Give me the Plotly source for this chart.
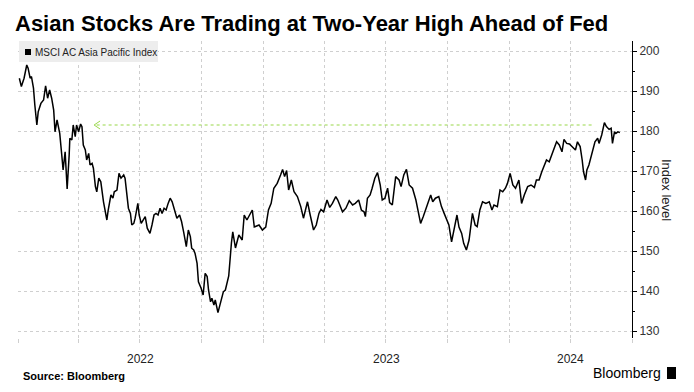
import plotly.graph_objects as go

# ---- data ----
dates = [
    "2022-01-03","2022-01-06","2022-01-10","2022-01-14","2022-01-16","2022-01-19","2022-01-21","2022-01-24",
    "2022-01-26","2022-01-29","2022-01-31","2022-02-04","2022-02-08","2022-02-11","2022-02-14","2022-02-17",
    "2022-02-20","2022-02-23","2022-02-25","2022-02-28","2022-03-02","2022-03-04","2022-03-07","2022-03-09",
    "2022-03-12","2022-03-15","2022-03-18","2022-03-19","2022-03-22","2022-03-24","2022-03-27","2022-03-29",
    "2022-04-01","2022-04-04","2022-04-06","2022-04-08","2022-04-11","2022-04-13","2022-04-16","2022-04-18",
    "2022-04-21","2022-04-23","2022-04-26","2022-04-28","2022-05-01","2022-05-04","2022-05-08","2022-05-10",
    "2022-05-13","2022-05-15","2022-05-19","2022-05-22","2022-05-24","2022-05-28","2022-05-31","2022-06-03",
    "2022-06-07","2022-06-09","2022-06-12","2022-06-14","2022-06-17","2022-06-19","2022-06-22","2022-06-24",
    "2022-06-28","2022-06-30","2022-07-03","2022-07-06","2022-07-09","2022-07-12","2022-07-16","2022-07-19",
    "2022-07-22","2022-07-25","2022-07-28","2022-07-31","2022-08-03","2022-08-06","2022-08-09","2022-08-12",
    "2022-08-15","2022-08-18","2022-08-21","2022-08-25","2022-08-29","2022-09-01","2022-09-04","2022-09-08",
    "2022-09-11","2022-09-14","2022-09-16","2022-09-19","2022-09-21","2022-09-24","2022-09-26","2022-09-30",
    "2022-10-03","2022-10-06","2022-10-09","2022-10-11","2022-10-14","2022-10-16","2022-10-19","2022-10-21",
    "2022-10-25","2022-10-28","2022-10-30","2022-11-02","2022-11-05","2022-11-10","2022-11-14","2022-11-16",
    "2022-11-20","2022-11-25","2022-11-30","2022-12-03","2022-12-07","2022-12-11","2022-12-15","2022-12-18",
    "2022-12-25","2022-12-30","2023-01-04","2023-01-08","2023-01-12","2023-01-16","2023-01-21","2023-01-26",
    "2023-01-29","2023-02-01","2023-02-04","2023-02-07","2023-02-11","2023-02-15","2023-02-20","2023-02-25",
    "2023-03-01","2023-03-04","2023-03-07","2023-03-11","2023-03-14","2023-03-16","2023-03-20","2023-03-24",
    "2023-03-27","2023-03-31","2023-04-05","2023-04-09","2023-04-13","2023-04-18","2023-04-21","2023-04-28",
    "2023-05-03","2023-05-08","2023-05-13","2023-05-17","2023-05-22","2023-05-26","2023-05-30","2023-06-01",
    "2023-06-04","2023-06-08","2023-06-11","2023-06-15","2023-06-19","2023-06-23","2023-06-26","2023-06-30",
    "2023-07-04","2023-07-07","2023-07-11","2023-07-16","2023-07-21","2023-07-24","2023-07-28","2023-08-01",
    "2023-08-05","2023-08-10","2023-08-15","2023-08-20","2023-08-22","2023-08-26","2023-08-30","2023-09-02",
    "2023-09-06","2023-09-09","2023-09-13","2023-09-18","2023-09-22","2023-09-26","2023-09-30","2023-10-03",
    "2023-10-07","2023-10-11","2023-10-15","2023-10-18","2023-10-22","2023-10-25","2023-10-29","2023-11-02",
    "2023-11-07","2023-11-11","2023-11-14","2023-11-18","2023-11-22","2023-11-27","2023-12-02","2023-12-06",
    "2023-12-09","2023-12-14","2023-12-18","2023-12-22","2023-12-26","2023-12-29","2024-01-02","2024-01-06",
    "2024-01-10","2024-01-15","2024-01-17","2024-01-19","2024-01-23","2024-01-28","2024-02-02","2024-02-07",
    "2024-02-10","2024-02-14","2024-02-18","2024-02-22","2024-02-25","2024-02-29","2024-03-04","2024-03-07",
    "2024-03-11","2024-03-15","2024-03-19","2024-03-22","2024-03-26","2024-03-30","2024-04-03","2024-04-08",
    "2024-04-11","2024-04-15","2024-04-18","2024-04-20","2024-04-23","2024-04-25","2024-04-28","2024-05-01",
    "2024-05-04","2024-05-07","2024-05-11","2024-05-13","2024-05-17","2024-05-21","2024-05-24","2024-05-28",
    "2024-05-31","2024-06-02","2024-06-05","2024-06-07","2024-06-10","2024-06-13",
]
index_level = [
    193.2,191.1,193.2,196.5,195.7,193.2,193.6,190.7,
    186.5,181.5,184.8,186.9,187.75,191.3,188.2,190.25,
    188.2,185.25,179.8,182.75,181.1,179.4,174.0,170.25,
    174.8,165.5,174.0,178.2,177.75,181.5,178.6,181.5,
    179.8,181.75,181.1,176.5,175.25,172.75,174.4,171.5,
    171.9,170.7,166.1,164.8,168.2,167.3,162.3,160.25,
    157.75,160.25,164.0,163.2,164.8,165.25,169.4,168.2,
    169.0,168.2,164.0,160.7,159.4,156.5,156.9,158.2,
    161.9,159.0,156.9,157.75,158.6,155.7,154.4,156.5,
    159.0,159.4,159.0,160.7,159.4,160.7,160.25,161.9,
    163.2,162.3,160.25,158.2,159.0,157.3,154.8,151.1,
    155.25,153.6,150.7,150.25,149.4,146.9,142.3,140.7,
    139.0,144.4,143.6,140.25,137.3,138.2,136.5,137.75,
    134.6,136.5,137.75,139.8,140.25,143.75,152.0,154.8,
    150.75,154.0,152.75,159.0,157.75,159.0,160.25,156.0,
    156.5,155.25,156.0,160.25,161.9,165.7,166.9,169.0,
    170.4,168.6,170.1,165.25,167.75,164.8,163.6,161.1,
    158.2,160.25,162.3,159.0,156.9,155.25,156.5,159.4,
    160.4,159.8,162.75,160.9,161.9,163.6,162.75,159.8,
    160.7,162.6,161.5,161.9,162.75,160.25,159.8,158.6,
    163.2,164.0,165.7,168.2,169.6,166.5,162.75,163.2,
    165.7,162.1,161.5,168.6,167.75,166.1,169.0,170.4,
    166.5,165.7,162.75,159.0,156.9,158.6,160.7,161.9,
    164.0,162.3,163.2,163.6,161.1,159.4,157.75,156.5,
    152.3,156.0,159.0,156.0,154.4,151.9,150.25,152.75,
    159.4,156.5,156.1,160.25,162.3,161.9,162.3,160.25,
    161.5,161.1,165.25,164.8,165.7,166.9,169.4,166.5,
    165.7,167.75,164.8,161.9,164.0,166.1,166.5,165.9,
    167.75,167.75,169.8,171.5,172.75,172.3,174.0,175.7,
    177.3,176.5,174.8,177.9,176.9,176.75,176.1,175.25,
    177.3,176.1,172.75,169.8,167.75,170.25,171.5,173.6,
    175.25,177.3,178.2,176.9,179.0,182.1,181.1,180.4,
    180.7,176.9,179.8,179.4,179.8,179.6,
]
series_name = "MSCI AC Asia Pacific Index"
title_text = "Asian Stocks Are Trading at Two-Year High Ahead of Fed"
x_range = ["2022-01-01", "2024-07-01"]
y_range = [128.25, 202.5]
year_labels = ["2022", "2023", "2024"]
year_label_dates = ["2022-07-02", "2023-07-02", "2024-04-01"]
arrow_level = 181.5
arrow_from = "2024-05-02"
arrow_to = "2022-04-24"

# ---- layout geometry ----
# The page body has an 8px default margin, so the figure is made 8px smaller
# and every reference-pixel position is offset by 8px.
OFF = 8
REF_W, REF_H = 694, 392
W, H = REF_W - OFF, REF_H - OFF
PL, PR, PT, PB = 18, 632, 41, 338        # plot area in reference pixels
PW, PH = PR - PL, PB - PT


def px(xp):
    return (xp - PL) / PW


def py(yp):
    return (PB - yp) / PH


GRID = "#cfcfcf"
GREEN = "#9ad84a"
FONT = "Liberation Sans, Arial, sans-serif"

fig = go.Figure()
fig.add_trace(go.Scatter(x=dates, y=index_level, mode="lines",
                         line=dict(color="black", width=1.5), showlegend=False,
                         name=series_name))

fig.update_layout(
    width=W, height=H,
    margin=dict(l=PL - OFF, r=REF_W - PR, t=PT - OFF, b=REF_H - PB, pad=0),
    paper_bgcolor="white", plot_bgcolor="white",
    font=dict(family=FONT, color="#222"),
    title=dict(text="<b>" + title_text + "</b>", x=(15 - OFF) / W, xanchor="left", xref="container",
               y=1 - (23 - OFF) / H, yanchor="middle", yref="container",
               font=dict(size=22, color="black", family=FONT)),
    xaxis=dict(type="date", range=x_range, showticklabels=False,
               tick0="2022-01-01", dtick="M3",
               showgrid=True, gridcolor=GRID, griddash="dot", gridwidth=1,
               ticks="outside", ticklen=4, tickcolor=GRID,
               zeroline=False, showline=False),
    yaxis=dict(side="right", range=y_range, tick0=0, dtick=10,
               showgrid=True, gridcolor=GRID, griddash="dot", gridwidth=1,
               showline=True, linecolor="black", linewidth=1,
               ticks="outside", ticklen=4, tickcolor="black", tickwidth=1,
               minor=dict(dtick=5, tick0=0, ticks="outside", ticklen=2, tickcolor="black", showgrid=False),
               tickfont=dict(size=12, color="#333", family=FONT),
               zeroline=False),
)

# green dotted arrow: latest level back to two years earlier
fig.add_shape(type="line", xref="x", yref="y", x0=arrow_from, x1=arrow_to,
              y0=arrow_level, y1=arrow_level,
              line=dict(color=GREEN, width=1.2, dash="dot"))
for leg in (4, -4):
    fig.add_shape(type="line", xref="x", yref="y",
                  xsizemode="pixel", xanchor=arrow_to, x0=0, x1=6,
                  ysizemode="pixel", yanchor=arrow_level, y0=0, y1=leg,
                  line=dict(color=GREEN, width=1))

# legend box
fig.add_shape(type="rect", xref="paper", yref="paper",
              x0=px(19), x1=px(158), y0=py(62), y1=py(41),
              fillcolor="#ededed", line=dict(width=0), layer="above")
fig.add_shape(type="rect", xref="paper", yref="paper",
              x0=px(25), x1=px(31), y0=py(55), y1=py(49),
              fillcolor="black", line=dict(width=0), layer="above")
fig.add_annotation(text=series_name, xref="paper", yref="paper",
                   x=px(33), y=py(52), xanchor="left", yanchor="middle",
                   showarrow=False, font=dict(size=10, color="#222", family=FONT))

# year labels
for lbl, d in zip(year_labels, year_label_dates):
    fig.add_annotation(text=lbl, xref="x", yref="paper", x=d, y=py(359),
                       xanchor="center", yanchor="middle", showarrow=False,
                       font=dict(size=12, color="#222", family=FONT))

# y axis title
fig.add_annotation(text="Index level", xref="paper", yref="paper",
                   x=px(667), y=py(190), xanchor="center", yanchor="middle",
                   textangle=90, showarrow=False,
                   font=dict(size=13, color="#222", family=FONT))

# footer
fig.add_annotation(text="<b>Source: Bloomberg</b>", xref="paper", yref="paper",
                   x=px(21), y=py(376), xanchor="left", yanchor="middle",
                   showarrow=False, font=dict(size=11, color="black", family=FONT))
fig.add_annotation(text="Bloomberg", xref="paper", yref="paper",
                   x=px(663), y=py(373), xanchor="right", yanchor="middle",
                   showarrow=False, font=dict(size=14, color="black", family=FONT))
fig.add_shape(type="rect", xref="paper", yref="paper",
              x0=px(667), x1=px(676), y0=py(379), y1=py(367),
              fillcolor="black", line=dict(width=0))

fig.write_html("out.html")
